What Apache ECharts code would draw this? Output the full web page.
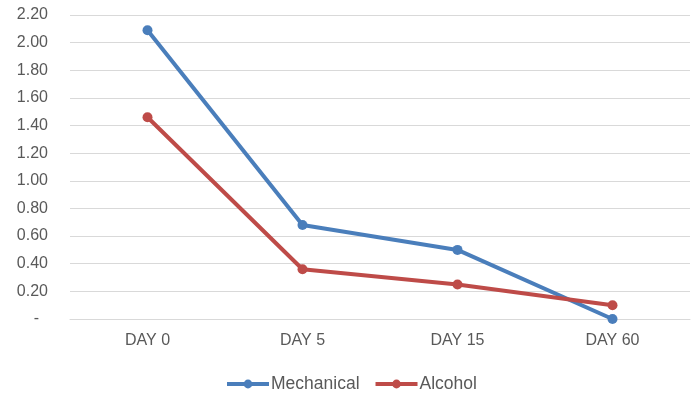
<!DOCTYPE html>
<html>
<head>
<meta charset="utf-8">
<script src="https://cdn.jsdelivr.net/npm/echarts@6/dist/echarts.min.js"></script>
<style>
html,body{margin:0;padding:0;background:#fff;}
#chart{width:699px;height:400px;}
</style>
</head>
<body>
<div id="chart"></div>
<script>
const categories = ['DAY 0', 'DAY 5', 'DAY 15', 'DAY 60'];
const mechanical = [2.09, 0.68, 0.50, 0.00];
const alcohol = [1.46, 0.36, 0.25, 0.10];
const seriesNames = ['Mechanical', 'Alcohol'];
const seriesColors = ['#4A7EBB', '#BE4B48'];

const chart = echarts.init(document.getElementById('chart'));
const font = 'Liberation Sans';
chart.setOption({
  backgroundColor: '#ffffff',
  animation: false,
  grid: { left: 70, right: 9, top: 15, bottom: 81 },
  legend: {
    top: 375,
    left: 225,
    itemWidth: 42,
    itemHeight: 11,
    itemGap: 14,
    padding: 0,
    lineStyle: { width: 4 },
    textStyle: { color: '#595959', fontSize: 17.5, fontFamily: font, padding: [0, 0, 0, -3] },
    data: seriesNames
  },
  xAxis: {
    type: 'category',
    data: categories,
    boundaryGap: true,
    axisLine: { lineStyle: { color: '#d9d9d9', width: 1 } },
    axisTick: { show: false },
    axisLabel: { color: '#595959', fontSize: 16, fontFamily: font, margin: 14 }
  },
  yAxis: {
    type: 'value',
    min: 0,
    max: 2.2,
    interval: 0.2,
    axisLine: { show: false },
    axisTick: { show: false },
    splitLine: { lineStyle: { color: '#d9d9d9', width: 1 } },
    axisLabel: {
      color: '#595959', fontSize: 16, fontFamily: font, margin: 22,
      formatter: function (v) { return Math.abs(v) < 1e-9 ? '-  ' : v.toFixed(2); }
    }
  },
  series: [
    {
      name: seriesNames[0], type: 'line', data: mechanical,
      symbol: 'circle', symbolSize: 10,
      lineStyle: { width: 4, color: seriesColors[0] },
      itemStyle: { color: seriesColors[0] }
    },
    {
      name: seriesNames[1], type: 'line', data: alcohol,
      symbol: 'circle', symbolSize: 10,
      lineStyle: { width: 4, color: seriesColors[1] },
      itemStyle: { color: seriesColors[1] }
    }
  ]
});
</script>
</body>
</html>
